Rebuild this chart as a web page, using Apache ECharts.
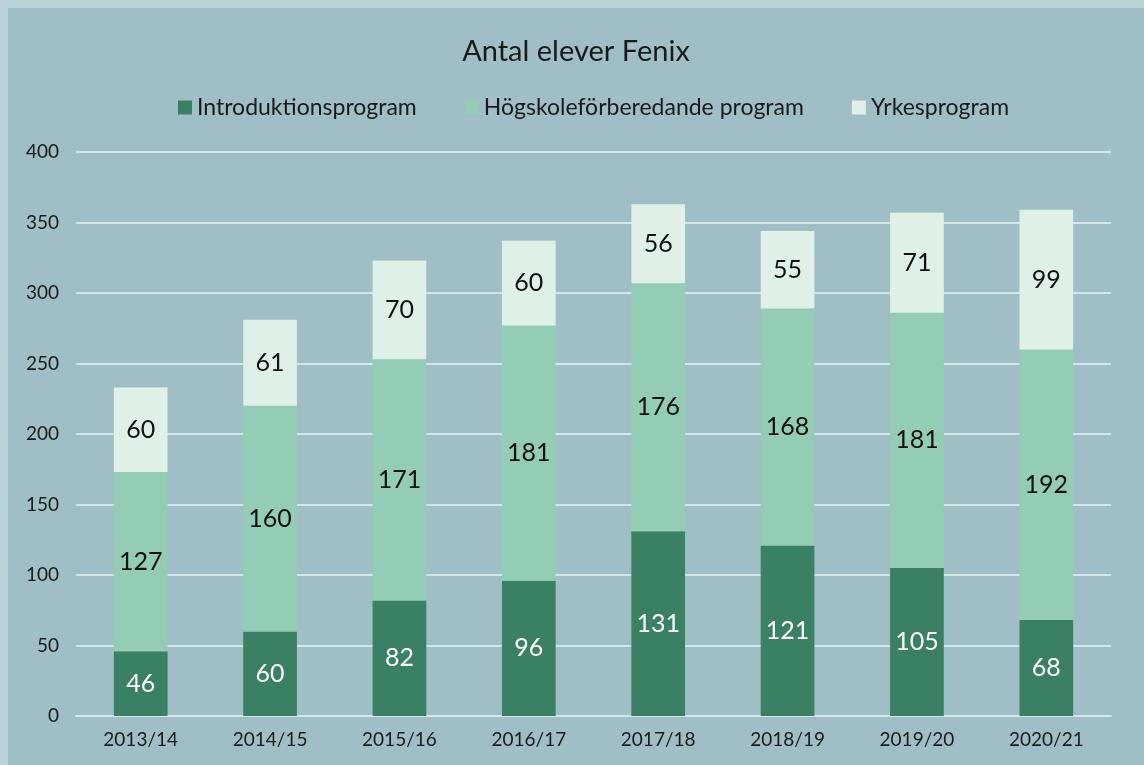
<!DOCTYPE html>
<html>
<head>
<meta charset="utf-8">
<script src="https://cdn.jsdelivr.net/npm/echarts@6/dist/echarts.min.js"></script>
<style>
  html, body { margin: 0; padding: 0; background: #b9d3d8; }
  #chart { position: absolute; left: 8px; top: 8px; width: 1136px; height: 757px; background: #9fbec5; }
</style>
</head>
<body>
<div id="chart"></div>
<script>
const years = ["2013/14", "2014/15", "2015/16", "2016/17", "2017/18", "2018/19", "2019/20", "2020/21"];
const intro = [46, 60, 82, 96, 131, 121, 105, 68];
const hogskole = [127, 160, 171, 181, 176, 168, 181, 192];
const yrkes = [60, 61, 70, 60, 56, 55, 71, 99];

const font = "Lato, 'Open Sans', sans-serif";

const chart = echarts.init(document.getElementById("chart"));

const seg = (name, data, color, labelColor) => ({
    name,
    type: "bar",
    stack: "total",
    data,
    barWidth: "41.5%",
    itemStyle: { color },
    label: {
        show: true,
        position: "inside",
        color: labelColor,
        fontSize: 25,
        fontFamily: font
    }
});

chart.setOption({
    animation: false,
    title: {
        text: "Antal elever Fenix",
        left: "center",
        top: 24,
        textStyle: { fontSize: 29, fontWeight: "normal", color: "#1a1a1a", fontFamily: font }
    },
    legend: {
        top: 83,
        left: 165,
        itemWidth: 14,
        itemHeight: 14,
        itemGap: 48,
        icon: "rect",
        textStyle: { fontSize: 23, color: "#1a1a1a", fontFamily: font }
    },
    grid: { left: 68, right: 33, top: 144, bottom: 49 },
    xAxis: {
        type: "category",
        data: years,
        axisLine: { lineStyle: { color: "#d3e6e8", width: 2 } },
        axisTick: { show: false },
        axisLabel: { fontSize: 19, color: "#1a1a1a", fontFamily: font, margin: 14 }
    },
    yAxis: {
        type: "value",
        min: 0,
        max: 400,
        interval: 50,
        axisLine: { show: false },
        axisTick: { show: false },
        splitLine: { lineStyle: { color: "#d3e6e8", width: 2 } },
        axisLabel: { fontSize: 19, color: "#1a1a1a", fontFamily: font, margin: 17 }
    },
    series: [
        seg("Introduktionsprogram", intro, "#3a8062", "#ffffff"),
        seg("Högskoleförberedande program", hogskole, "#93cdb3", "#111111"),
        seg("Yrkesprogram", yrkes, "#dff0e7", "#111111")
    ]
});
</script>
</body>
</html>
